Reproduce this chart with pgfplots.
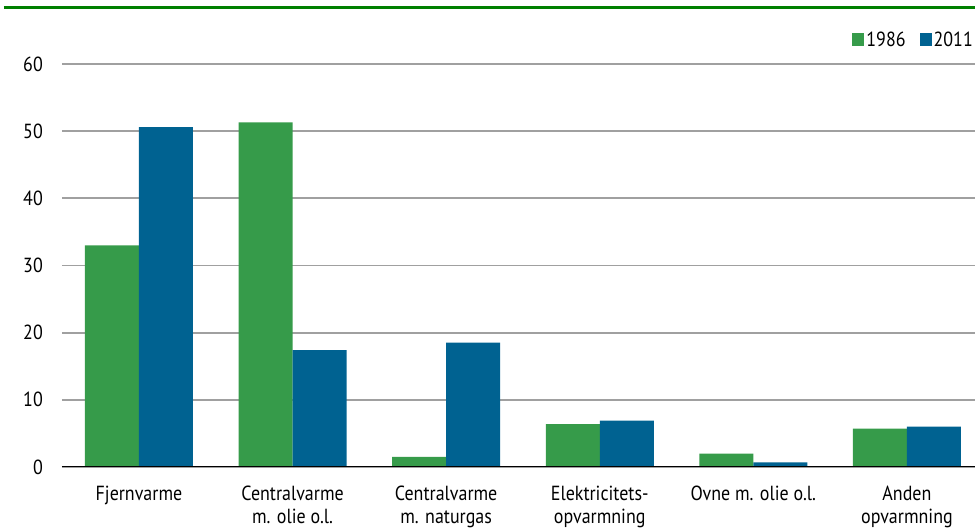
\documentclass[border=0pt]{standalone}
\usepackage{fontspec}
\setmainfont{PT Sans}[FakeStretch=0.88]
\usepackage{pgfplots}
\usepackage{pgfplotstable}
\pgfplotsset{compat=1.18}
\definecolor{cgreen}{RGB}{54,155,74}
\definecolor{cblue}{RGB}{0,98,145}
\definecolor{cgrid}{RGB}{160,160,160}
\definecolor{crule}{RGB}{0,128,0}
\pgfplotstableread{
x y
0 33.0
1 51.3
2 1.5
3 6.4
4 2.0
5 5.7
}\tblA
\pgfplotstableread{
x y
0 50.6
1 17.4
2 18.5
3 6.9
4 0.7
5 6.0
}\tblB
\begin{document}
\begin{tikzpicture}
\useasboundingbox (-62bp,-62bp) rectangle (913bp,467bp);
\begin{axis}[
  scale only axis,
  width=913bp, height=403bp,
  ymin=0, ymax=60, ytick={0,10,20,30,40,50,60},
  xmin=-0.501, xmax=5.443,
  xtick={0,1,2,3,4,5},
  xticklabels={Fjernvarme,{Centralvarme\\m. olie o.l.},{Centralvarme\\m. naturgas},{Elektricitets-\\opvarmning},{Ovne m. olie o.l.},{Anden\\opvarmning}},
  ybar=0pt, bar width=54bp,
  axis line style={draw=none},
  major tick length=0pt,
  ymajorgrids, grid style={cgrid, line width=1.8bp},
  /pgf/number format/assume math mode=true,
  font=\fontsize{20.5}{23}\selectfont,
  yticklabel style={inner sep=0pt, anchor=east, xshift=-19bp},
  xticklabel style={align=center, inner sep=0pt, anchor=north, yshift=-19bp},
  legend columns=2,
  legend style={at={(rel axis cs:1,1)}, anchor=east, yshift=24bp, draw=none, fill=none, inner sep=0pt,
    nodes={inner sep=2bp}, /tikz/every even column/.append style={column sep=12bp}},
  legend image code/.code={\fill[#1, draw=none] (0bp,-6.5bp) rectangle (12bp,6.5bp);},
]
\addplot[fill=cgreen, draw=none] table[x=x,y=y] {\tblA};
\addplot[fill=cblue, draw=none] table[x=x,y=y] {\tblB};
\legend{1986,2011}
\draw[black, line width=2.6bp] (rel axis cs:0,0) -- (rel axis cs:1,0);
\node[anchor=base west, inner sep=0pt, font=\fontsize{20.5}{23}\selectfont] at ([yshift=17bp]rel axis cs:0,1) {Pct.};
\end{axis}
\draw[crule, line width=2.2bp] (-58bp,459.5bp) -- (913bp,459.5bp);
\end{tikzpicture}
\end{document}
